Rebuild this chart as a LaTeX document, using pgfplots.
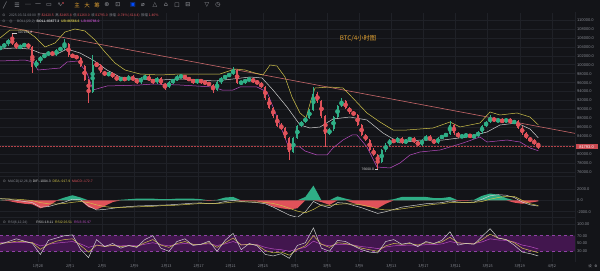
\documentclass[border=0pt]{standalone}
\usepackage{pgfplots}
\pgfplotsset{compat=1.18}
\usepackage{pgfplotstable}
\usepackage{fontspec}
\setmainfont{Liberation Sans}
\newfontfamily\cjk{Noto Sans CJK SC}
\newfontfamily\sym{DejaVu Sans}

\definecolor{bg}{HTML}{131418}
\definecolor{gridc}{HTML}{1F2127}
\definecolor{txt}{HTML}{858890}
\definecolor{upc}{HTML}{2FAE86}
\definecolor{dnc}{HTML}{E0525A}
\definecolor{ubc}{HTML}{CFC24A}
\definecolor{mbc}{HTML}{CFCFCF}
\definecolor{lbc}{HTML}{B84CC0}
\definecolor{trendc}{HTML}{C8686A}
\definecolor{bandc}{HTML}{42164E}
\definecolor{bandl}{HTML}{9040A4}
\definecolor{orangec}{HTML}{E2A232}
\definecolor{iconc}{HTML}{9A9CA2}

\pgfplotstableread{
d o h l c
-4.7 103500 104300 103200 104000
-4.2 104000 104900 103700 104600
-3.7 104600 105800 104300 105500
-3.2 105500 107165 104500 104800
-2.7 104800 105100 103500 103800
-2.2 103800 104500 103500 104200
-1.7 104200 104900 103900 104600
-1.2 104600 104900 103600 103900
-0.7 103900 104200 98100 99500
-0.2 99500 101100 99200 100800
0.3 100800 102000 100500 101700
0.8 101700 102500 101400 102200
1.3 102200 103100 101900 102800
1.8 102800 103100 101900 102200
2.3 102200 103600 101900 103300
2.8 103300 104000 103000 103700
3.3 103700 105700 103400 104600
3.8 104600 104900 101800 102100
4.3 102100 102400 101600 101900
4.8 101900 102200 101200 101500
5.3 101500 101800 99400 99700
5.8 99700 100000 96300 96600
6.3 96600 96900 91400 94000
6.8 94000 102200 93700 100000
7.3 100000 100600 99600 99900
7.8 99900 100200 98100 98400
8.3 98400 98700 97400 97700
8.8 97700 98400 97400 98100
9.3 98100 98400 97000 97300
9.8 97300 97600 96300 96600
10.3 96600 97300 96300 97000
10.8 97000 97300 96300 96600
11.3 96600 97600 96300 97300
11.8 97300 97600 96300 96600
12.3 96600 96900 95800 96100
12.8 96100 97300 95800 97000
13.3 97000 97600 96700 97300
13.8 97300 97600 96300 96600
14.3 96600 96900 95800 96100
14.8 96100 97300 95800 97000
15.3 97000 97300 95400 95700
15.8 95700 96000 94300 95000
16.3 95000 96400 94700 96100
16.8 96100 96900 95800 96600
17.3 96600 97600 96300 97300
17.8 97300 97800 97000 97500
18.3 97500 97800 96700 97000
18.8 97000 97300 96300 96600
19.3 96600 96900 95800 96100
19.8 96100 96900 95800 96600
20.3 96600 96900 95800 96100
20.8 96100 96400 95600 95900
21.3 95900 96200 95200 95500
21.8 95500 95800 93700 94400
22.3 94400 96400 94100 96100
22.8 96100 97300 95800 97000
23.3 97000 97800 96700 97500
23.8 97500 98200 97200 97900
24.3 97900 99500 97600 98800
24.8 98800 99100 95600 95900
25.3 95900 96400 95600 96100
25.8 96100 96900 95800 96600
26.3 96600 97100 96300 96800
26.8 96800 97100 95900 96200
27.3 96200 96500 95600 95900
27.8 95900 96200 94700 95000
28.3 95000 95300 92200 92500
28.8 92500 92800 90000 90300
29.3 90300 90600 88200 88500
29.8 88500 88800 86000 86300
30.3 86300 86900 85500 85800
30.8 85800 86100 83300 83600
31.3 83600 83900 78700 80500
31.8 80500 83900 80200 83600
32.3 83600 86600 83300 86300
32.8 86300 87500 86000 87200
33.3 87200 88400 86900 88100
33.8 88100 90200 87800 89900
34.3 89900 95000 89600 93500
34.8 93500 93800 91500 91800
35.3 91800 92100 88200 88500
35.8 88500 88800 81700 84500
36.3 84500 85900 84200 85600
36.8 85600 88600 85300 88300
37.3 88300 91100 88000 90800
37.8 90800 92500 90500 91800
38.3 91800 92100 90000 90300
38.8 90300 90600 89100 89400
39.3 89400 89700 88500 88800
39.8 88800 89100 86200 86500
40.3 86500 86800 84000 84300
40.8 84300 84600 82900 83200
41.3 83200 83500 80700 81000
41.8 81000 81300 79500 79800
42.3 79800 80100 76600 78300
42.8 78300 81200 78000 80900
43.3 80900 82400 80600 82100
43.8 82100 83500 81800 83200
44.3 83200 83500 82400 82700
44.8 82700 83900 82400 83600
45.3 83600 83900 82200 82500
45.8 82500 83500 82200 83200
46.3 83200 83900 82900 83600
46.8 83600 83900 82400 82700
47.3 82700 83000 81800 82100
47.8 82100 83500 81800 83200
48.3 83200 84200 82900 83900
48.8 83900 84200 82900 83200
49.3 83200 83500 82200 82500
49.8 82500 83900 82200 83600
50.3 83600 84400 83300 84100
50.8 84100 84800 83800 84500
51.3 84500 87400 84200 86500
51.8 86500 86800 84400 84700
52.3 84700 85000 83600 83900
52.8 83900 84400 83600 84100
53.3 84100 84600 83800 84300
53.8 84300 84600 83600 83900
54.3 83900 84400 83600 84100
54.8 84100 85200 83800 84900
55.3 84900 86600 84600 86300
55.8 86300 87500 86000 87200
56.3 87200 88700 86900 88100
56.8 88100 88400 87100 87400
57.3 87400 88000 87100 87700
57.8 87700 88000 86900 87200
58.3 87200 88200 86900 87900
58.8 87900 88200 86700 87000
59.3 87000 87700 86700 87400
59.8 87400 87700 85600 85900
60.3 85900 86200 84400 84700
60.8 84700 85000 83300 83600
61.3 83600 83900 82700 83000
61.8 83000 83300 82100 82400
62.3 82420 82465 81260 81793
}\candles

\pgfplotstableread{
d p
-4.73 105977
-3.49 107765
-1.62 107765
-0.37 106200
0.87 103966
2.12 104860
3.36 107318
4.61 107989
5.85 107542
7.10 105530
8.34 102848
9.59 100390
10.83 98825
12.70 97931
15.19 97708
17.68 97931
20.17 97931
22.67 97931
24.53 99049
25.78 98825
27.02 98155
28.02 97708
28.89 99943
29.76 99719
30.76 97261
31.63 92791
32.63 89215
33.37 88097
34.00 92120
34.50 94802
36.36 95026
37.98 94802
38.85 93238
40.97 89215
42.59 87203
44.21 85415
45.95 85415
49.19 85862
51.31 87203
52.55 86086
55.04 86980
56.29 89438
57.53 88768
59.65 89215
61.27 88321
62.3 86567
}\ub

\pgfplotstableread{
d p
-4.73 103519
-2.86 103742
-1.00 103519
0.25 102625
2.12 102178
3.61 103519
5.23 102625
6.85 101060
8.59 98825
10.21 97261
12.70 96814
15.19 96590
17.68 96814
20.17 96590
22.04 96367
24.28 96814
26.40 97261
27.90 97037
29.27 94355
31.01 90556
32.63 86533
33.87 85862
35.12 86086
36.74 87874
38.85 88321
40.97 87650
42.96 84745
45.08 82510
47.57 83180
50.44 83180
53.42 83851
55.92 84968
57.53 86533
59.65 86980
61.27 85639
62.3 83677
}\mb

\pgfplotstableread{
d p
-4.73 100837
-1.62 101060
-0.62 100613
0.00 98825
2.74 99272
3.61 100613
4.98 100837
6.10 98155
6.85 94355
8.59 95249
12.70 95473
14.32 95696
17.68 95473
21.79 95026
22.91 94355
24.28 94355
25.16 95026
27.27 95026
28.52 93908
29.76 88321
31.01 82510
31.76 81616
32.63 81616
33.25 80722
34.74 79828
35.99 79828
36.74 81392
37.98 83180
39.10 84298
39.73 84298
40.97 81616
42.22 77146
43.84 76923
45.08 78040
46.33 79828
47.57 80498
50.06 80945
51.31 81616
52.93 82510
55.04 83851
55.92 82733
58.41 83180
60.03 82733
61.27 81392
62.3 80788
}\lb

\pgfplotstableread{
d dif dea h
-4.7 300 250 100
-3.7 200 250 -100
-2.7 0 200 -400
-1.7 -200 100 -600
-0.7 -400 -50 -700
0.3 -1200 -400 -1400
1.3 -1100 -600 -1000
2.3 -700 -650 -100
3.3 -300 -550 500
4.3 200 -350 900
5.3 100 -200 500
6.3 -1000 -400 -1200
7.3 -1700 -800 -1600
8.3 -1600 -1100 -1000
9.3 -1400 -1250 -300
10.3 -1200 -1250 100
11.3 -1100 -1200 200
12.3 -1000 -1150 300
13.3 -950 -1100 300
14.3 -900 -1050 300
15.3 -850 -950 200
16.3 -800 -900 200
17.3 -700 -850 300
18.3 -600 -750 300
19.3 -500 -650 300
20.3 -450 -550 200
21.3 -600 -550 -100
22.3 -500 -550 100
23.3 -200 -450 500
24.3 0 -300 600
25.3 -200 -250 -100
26.3 -300 -250 -100
27.3 -400 -300 -200
28.3 -600 -350 -500
29.3 -1200 -550 -1100
30.3 -1900 -900 -1400
31.3 -2600 -1400 -1600
32.3 -3000 -1900 -1400
33.3 -2000 -2200 600
34.3 -200 -1600 2600
35.3 -900 -800 -300
36.3 -1300 -900 -800
37.3 -400 -700 700
38.3 -500 -600 300
39.3 -900 -650 -500
40.3 -1300 -800 -900
41.3 -1800 -1100 -1200
42.3 -2300 -1500 -1400
43.3 -2000 -1700 -600
44.3 -1600 -1700 200
45.3 -1200 -1500 600
46.3 -1000 -1300 600
47.3 -800 -1100 600
48.3 -600 -900 600
49.3 -500 -700 400
50.3 -400 -600 400
51.3 -100 -400 600
52.3 -300 -350 -100
53.3 -400 -350 -100
54.3 -300 -350 100
55.3 200 -200 800
56.3 800 200 1200
57.3 1000 500 1000
58.3 900 700 400
59.3 500 700 -400
60.3 -300 0 -600
61.3 -800 -600 -400
62.3 -1004.3 -917.9 -172.7
}\macd

\pgfplotstableread{
d r1 r2 r3
-4.7 48 50 52
-3.7 55 52 52
-2.7 62 56 53
-1.7 56 55 53
-0.7 50 52 52
0.3 22 35 44
1.3 58 48 48
2.3 64 56 51
3.3 70 60 53
4.3 72 62 55
5.3 35 45 49
6.3 14 28 40
7.3 60 46 46
8.3 42 42 44
9.3 50 45 45
10.3 38 42 44
11.3 45 44 45
12.3 40 42 44
13.3 60 52 48
14.3 70 60 52
15.3 38 46 47
16.3 30 40 44
17.3 55 50 48
18.3 62 55 50
19.3 45 48 48
20.3 48 48 48
21.3 56 52 49
22.3 30 40 45
23.3 58 52 49
24.3 76 64 55
25.3 34 46 48
26.3 50 48 48
27.3 44 46 47
28.3 22 32 40
29.3 18 26 36
30.3 24 28 34
31.3 12 20 30
32.3 45 35 36
33.3 52 44 40
34.3 90 70 56
35.3 38 48 48
36.3 30 40 44
37.3 58 52 48
38.3 55 50 48
39.3 44 45 46
40.3 34 38 42
41.3 28 34 40
42.3 26 30 37
43.3 55 44 41
44.3 60 50 44
45.3 48 48 45
46.3 52 50 46
47.3 42 46 45
48.3 55 52 47
49.3 50 50 47
50.3 58 54 49
51.3 80 66 55
52.3 46 52 51
53.3 50 50 50
54.3 48 49 50
55.3 68 60 54
56.3 88 74 62
57.3 64 64 59
58.3 60 60 58
59.3 46 52 54
60.3 28 38 46
61.3 24 32 42
62.3 18.11 26.51 35.97
}\rsi

\newcommand\lbl{\fontsize{4}{5}\selectfont}
\newcommand\sm{\fontsize{3.4}{4}\selectfont}

\pgfplotsset{
 panel/.style={
  scale only axis, width=575pt,
  xmin=-4.732, xmax=66.875,
  axis line style={draw=none},
  major tick length=0pt,
  xtick={0,4,...,64},
  xticklabels={},
  grid=major, major grid style={gridc, line width=0.5pt},
  yticklabel pos=right,
  yticklabel style={font=\lbl, text=txt, anchor=west, xshift=1pt, inner sep=1pt},
  scaled y ticks=false,
 },
 candle/.style n args={3}{#2, only marks, no markers,
  restrict expr to domain={\thisrow{c}-\thisrow{o}}{#1},
  error bars/.cd, y dir=both, y explicit, error mark=none,
  error bar style={draw=#2, line width=#3}},
}

\begin{document}
\begin{tikzpicture}
\useasboundingbox (0pt,0pt) rectangle (600pt,271pt);
\fill[bg] (0pt,0pt) rectangle (600pt,271pt);

% ---------------- main price panel
\begin{axis}[panel, at={(0pt,95pt)}, anchor=south west, height=163.3pt,
  ymin=75134, ymax=111632,
  ytick={76000,78000,80000,82000,84000,86000,88000,90000,92000,94000,96000,98000,100000,102000,104000,106000,108000,110000},
  yticklabels={76000.0,78000.0,80000.0,,84000.0,86000.0,88000.0,90000.0,92000.0,94000.0,96000.0,98000.0,100000.0,102000.0,104000.0,106000.0,108000.0,110000.0},
]
\addplot[trendc, line width=0.6pt] coordinates {(-4.732,108750) (66.875,84660)};
\addplot[ubc, line width=0.5pt] table[x=d,y=p]{\ub};
\addplot[mbc, line width=0.5pt] table[x=d,y=p]{\mb};
\addplot[lbc, line width=0.5pt] table[x=d,y=p]{\lb};
% wicks
\addplot[candle={0:1e7}{upc}{0.5pt}] table[x=d, y expr={(\thisrow{h}+\thisrow{l})/2}, y error expr={(\thisrow{h}-\thisrow{l})/2}]{\candles};
\addplot[candle={-1e7:-0.01}{dnc}{0.5pt}] table[x=d, y expr={(\thisrow{h}+\thisrow{l})/2}, y error expr={(\thisrow{h}-\thisrow{l})/2}]{\candles};
% bodies
\addplot[candle={0:1e7}{upc}{2.0pt}] table[x=d, y expr={(\thisrow{o}+\thisrow{c})/2}, y error expr={max(abs(\thisrow{c}-\thisrow{o})/2,40)}]{\candles};
\addplot[candle={-1e7:-0.01}{dnc}{2.0pt}] table[x=d, y expr={(\thisrow{o}+\thisrow{c})/2}, y error expr={max(abs(\thisrow{c}-\thisrow{o})/2,40)}]{\candles};
\draw[dnc!80!black, densely dotted, line width=0.5pt] (axis cs:-4.732,81793) -- (axis cs:66.875,81793);
\draw[mbc, line width=0.3pt] (axis cs:-3.2,107165) -- ++(5pt,0pt) node[right, inner sep=0.6pt, font=\sm, text=mbc]{107164.8};
\draw[mbc, line width=0.3pt] (axis cs:42.3,76600) -- ++(-3pt,0pt) node[left, inner sep=0.6pt, font=\sm, text=mbc]{76600.0};
\end{axis}

% ---------------- MACD panel
\begin{axis}[panel, at={(0pt,54pt)}, anchor=south west, height=41pt,
  ymin=-2934, ymax=4291, ytick={-2000,0,2000}, yticklabels={-2000.0,0.0,2000.0}]
\addplot[draw=none, fill=upc] table[x=d, y expr={max(\thisrow{h},0)}]{\macd} \closedcycle;
\addplot[draw=none, fill=dnc] table[x=d, y expr={min(\thisrow{h},0)}]{\macd} \closedcycle;
\addplot[mbc, line width=0.5pt] table[x=d,y=dif]{\macd};
\addplot[ubc, line width=0.5pt] table[x=d,y=dea]{\macd};
\end{axis}

% ---------------- RSI panel
\begin{axis}[panel, at={(0pt,9pt)}, anchor=south west, height=45pt,
  ymin=2.56, ymax=117.9, ytick={30,50,70,100}, yticklabels={30.00,50.00,70.00,100.00},
  xticklabels={1月28,2月1,2月5,2月9,2月13,2月17,2月21,2月25,3月1,3月5,3月9,3月13,3月17,3月21,3月25,3月29,4月2},
  xticklabel style={font=\cjk\fontsize{3.8}{4}\selectfont, text=txt, anchor=center, yshift=-4pt}]
\fill[bandc] (axis cs:-4.732,30) rectangle (axis cs:66.875,70);
\draw[bandl, dashed, line width=0.4pt] (axis cs:-4.732,30) -- (axis cs:66.875,30);
\draw[bandl, dashed, line width=0.4pt] (axis cs:-4.732,70) -- (axis cs:66.875,70);
\addplot[lbc, line width=0.5pt] table[x=d,y=r3]{\rsi};
\addplot[ubc, line width=0.5pt] table[x=d,y=r2]{\rsi};
\addplot[mbc, line width=0.5pt] table[x=d,y=r1]{\rsi};
\end{axis}

% separators
\draw[gridc, line width=0.5pt] (575.5pt,9pt) -- (575.5pt,259pt);
\draw[gridc, line width=0.5pt] (0pt,95pt) -- (575.5pt,95pt);
\draw[gridc, line width=0.5pt] (0pt,54pt) -- (575.5pt,54pt);

% current price tag
\fill[dnc!90!black] (575.5pt,121.7pt) rectangle (597.5pt,127pt);
\node[font=\lbl, text=white, inner sep=0pt] at (586.5pt,124.35pt) {81793.0};

% headers
\node[font=\sym\fontsize{3.6}{4}\selectfont, text=iconc, inner sep=0pt] at (4pt,255.5pt) {⊙};
\node[anchor=west, inner sep=0pt, font=\cjk\sm, text=txt] at (9pt,255.5pt)
 {2025-03-31 08:00\ \ 开 \textcolor{dnc}{82420.5}\ \ 高 \textcolor{dnc}{82465.4}\ \ 低 \textcolor{dnc}{81260.0}\ \ 收 \textcolor{dnc}{81793.0}\ \ 涨幅 \textcolor{dnc}{-0.74\%(-614.4)}\ \ 振幅 \textcolor{dnc}{1.46\%}};
\node[font=\sym\fontsize{3.6}{4}\selectfont, text=iconc, inner sep=0pt] at (4pt,249.5pt) {⊙};
\node[font=\sym\fontsize{3.6}{4}\selectfont, text=iconc, inner sep=0pt] at (11pt,249.5pt) {◎};
\node[anchor=west, inner sep=0pt, font=\sm, text=txt] at (17pt,249.5pt)
 {BOLL(20,2)\ \ \textcolor{mbc}{\bfseries BOLL:83677.3}\ \ \textcolor{ubc}{\bfseries UB:86566.6}\ \ \textcolor{lbc}{\bfseries LB:80788.0}};
\node[font=\cjk\fontsize{6.3}{7}\selectfont, text=orangec, inner sep=0pt] at (358pt,233pt) {BTC/4小时图};

\node[font=\sym\fontsize{3.6}{4}\selectfont, text=iconc, inner sep=0pt] at (4.5pt,89.3pt) {⊙};
\node[anchor=west, inner sep=0pt, font=\sm, text=txt] at (8pt,89.3pt)
 {MACD(12,26,9)\ \textcolor{mbc}{DIF:-1004.3}\ \ \textcolor{ubc}{DEA:-917.9}\ \ \textcolor{dnc}{MACD:-172.7}};
\node[font=\sym\fontsize{3.6}{4}\selectfont, text=iconc, inner sep=0pt] at (4.5pt,48.3pt) {⊙};
\node[anchor=west, inner sep=0pt, font=\sm, text=txt] at (8pt,48.3pt)
 {RSI(6,12,24)\hspace{9pt}\textcolor{mbc}{RSI1:18.11}\ \ \textcolor{ubc}{RSI2:26.51}\ \ \textcolor{lbc}{RSI3:35.97}};

% toolbar
\begin{scope}[every node/.style={inner sep=0pt, text=iconc, font=\sym\fontsize{6}{6}\selectfont}]
\node at (5pt,266pt) {╱};
\node at (17pt,266pt) {☰};
\node at (28pt,266pt) {⋯};
\node at (38pt,266pt) {—};
\node at (49pt,266pt) {▭};
\node at (60pt,266pt) {∿};
\fill[dnc] (63pt,268pt) circle (0.8pt);
\node[font=\cjk\fontsize{5.5}{6}\selectfont, text=orangec] at (77pt,266pt) {主};
\node[font=\cjk\fontsize{5.5}{6}\selectfont, text=orangec] at (87pt,266pt) {大};
\node[font=\cjk\fontsize{5.5}{6}\selectfont, text=orangec] at (97pt,266pt) {筹};
\node at (107pt,266pt) {⊛};
\node at (118pt,266pt) {⊡};
\node[text=blue!70!cyan] at (133pt,266pt) {▣};
\node at (143pt,266pt) {⌀};
\node at (155pt,266pt) {△};
\node at (166pt,266pt) {⌂};
\node at (177pt,266pt) {☐};
\node at (188pt,266pt) {⊟};
\node at (207pt,266pt) {▽};
\node at (218pt,266pt) {◷};
\node[font=\cjk\fontsize{3.5}{4}\selectfont] at (590pt,5pt) {设};
\node[font=\sym\fontsize{3.5}{4}\selectfont] at (596pt,5pt) {⚙};
\end{scope}
\end{tikzpicture}
\end{document}
